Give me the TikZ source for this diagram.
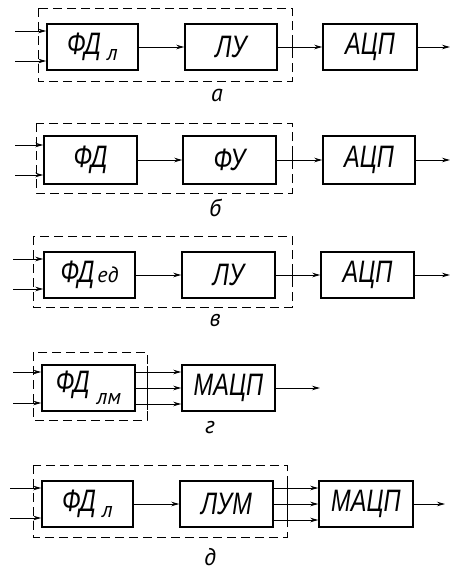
\documentclass[tikz,border=0pt]{standalone}
\usepackage{fontspec}
\setmainfont{Liberation Sans}[FakeStretch=0.76]
\newfontfamily\lblfont{PT Sans}
\usetikzlibrary{arrows.meta}
\tikzset{
  blk/.style={draw, line width=1.5pt, minimum height=46pt, inner sep=0pt,
    font=\fontsize{31}{31}\selectfont\itshape},
  frame/.style={draw, line width=0.9pt, dash pattern=on 9pt off 5pt},
  tick/.style={line width=0.9pt},
  arr/.style={line width=0.9pt, -{Stealth[length=8pt,width=4.5pt]}},
  lbl/.style={font=\lblfont\fontsize{24}{24}\selectfont\itshape, inner sep=0pt},
}
\newcommand{\subx}[2]{\hspace{#2}\raisebox{#1}{\fontsize{24}{24}\selectfont\itshape\lblfont}}
\newcommand{\sublow}[3]{\hspace{#2}\raisebox{#1}{\lblfont\fontsize{22}{22}\selectfont\itshape #3}}
\begin{document}
\begin{tikzpicture}[x=1pt,y=-1pt]
\useasboundingbox (0,0) rectangle (451,576);
% ---------- a ----------
\draw[frame] (38,8) rectangle (292,81);
\node[blk, minimum width=91pt] (fda) at (92.5,47) {ФД\sublow{-0.2em}{6pt}{л}};
\node[blk, minimum width=92pt] (lua) at (231,47) {ЛУ};
\node[blk, minimum width=94pt] (adca) at (370,47) {АЦП};
\coordinate (ina1) at (15,31);
\coordinate (ina2) at (15,61);
\coordinate (outa) at (450,47);
\draw[arr] (ina1) -- (ina1 -| fda.west);
\draw[arr] (ina2) -- (ina2 -| fda.west);
\draw[arr] (fda) -- (lua);
\draw[arr] (lua) -- (adca);
\draw[arr] (adca) -- (outa);
\draw[tick] (292,40) -- (292,54);
\node[lbl] (la) at (217,95) {а};
% ---------- б ----------
\draw[frame] (36,123) rectangle (292,193);
\node[blk, minimum width=93pt, minimum height=48pt] (fdb) at (90.5,160) {ФД};
\node[blk, minimum width=93pt, minimum height=48pt] (fub) at (229.5,160) {ФУ};
\node[blk, minimum width=92pt, minimum height=48pt] (adcb) at (369,160) {АЦП};
\coordinate (inb1) at (15,145);
\coordinate (inb2) at (15,175);
\coordinate (outb) at (450,160);
\draw[arr] (inb1) -- (inb1 -| fdb.west);
\draw[arr] (inb2) -- (inb2 -| fdb.west);
\draw[arr] (fdb) -- (fub);
\draw[arr] (fub) -- (adcb);
\draw[arr] (adcb) -- (outb);
\draw[tick] (292,153) -- (292,167);
\node[lbl] (lb) at (215,208) {б};
% ---------- в ----------
\draw[frame] (33,236) rectangle (292,307);
\node[blk, minimum width=91pt] (fdv) at (89.5,275) {ФД\sublow{0pt}{3pt}{ед}};
\node[blk, minimum width=93pt] (luv) at (228.5,275) {ЛУ};
\node[blk, minimum width=93pt] (adcv) at (367.5,275) {АЦП};
\coordinate (inv1) at (13,259);
\coordinate (inv2) at (13,289);
\coordinate (outv) at (450,275);
\draw[arr] (inv1) -- (inv1 -| fdv.west);
\draw[arr] (inv2) -- (inv2 -| fdv.west);
\draw[arr] (fdv) -- (luv);
\draw[arr] (luv) -- (adcv);
\draw[arr] (adcv) -- (outv);
\draw[tick] (292,268) -- (292,282);
\node[lbl] (lv) at (215,320) {в};
% ---------- г ----------
\draw[frame] (33,352) rectangle (147,420);
\node[blk, minimum width=93pt] (fdg) at (88.5,388) {ФД\sublow{-0.4em}{7pt}{лм}};
\node[blk, minimum width=93pt] (madcg) at (228.5,388) {МАЦП};
\coordinate (ing1) at (13,372);
\coordinate (ing2) at (13,403);
\coordinate (outg) at (320,388);
\draw[arr] (ing1) -- (ing1 -| fdg.west);
\draw[arr] (ing2) -- (ing2 -| fdg.west);
\draw[arr] ([yshift=16pt]fdg.east) -- ([yshift=16pt]madcg.west);
\draw[arr] (fdg) -- (madcg);
\draw[arr] ([yshift=-16pt]fdg.east) -- ([yshift=-16pt]madcg.west);
\draw[arr] (madcg) -- (outg);
\draw[tick] (147,366) -- (147,410);
\node[lbl] (lg) at (210,428) {г};
% ---------- д ----------
\draw[frame] (33,465) rectangle (287,537);
\node[blk, minimum width=91pt] (fdd) at (87.5,504) {ФД\sublow{-0.2em}{6pt}{л}};
\node[blk, minimum width=93pt] (lumd) at (226.5,504) {ЛУМ};
\node[blk, minimum width=94pt] (madcd) at (366,504) {МАЦП};
\coordinate (ind1) at (10,488);
\coordinate (ind2) at (10,518);
\coordinate (outd) at (445,504);
\draw[arr] (ind1) -- (ind1 -| fdd.west);
\draw[arr] (ind2) -- (ind2 -| fdd.west);
\draw[arr] (fdd) -- (lumd);
\draw[arr] ([yshift=16pt]lumd.east) -- ([yshift=16pt]madcd.west);
\draw[arr] (lumd) -- (madcd);
\draw[arr] ([yshift=-16pt]lumd.east) -- ([yshift=-16pt]madcd.west);
\draw[arr] (madcd) -- (outd);
\draw[tick] (287,482) -- (287,526);
\node[lbl] (ld) at (210,557) {д};
\end{tikzpicture}
\end{document}
